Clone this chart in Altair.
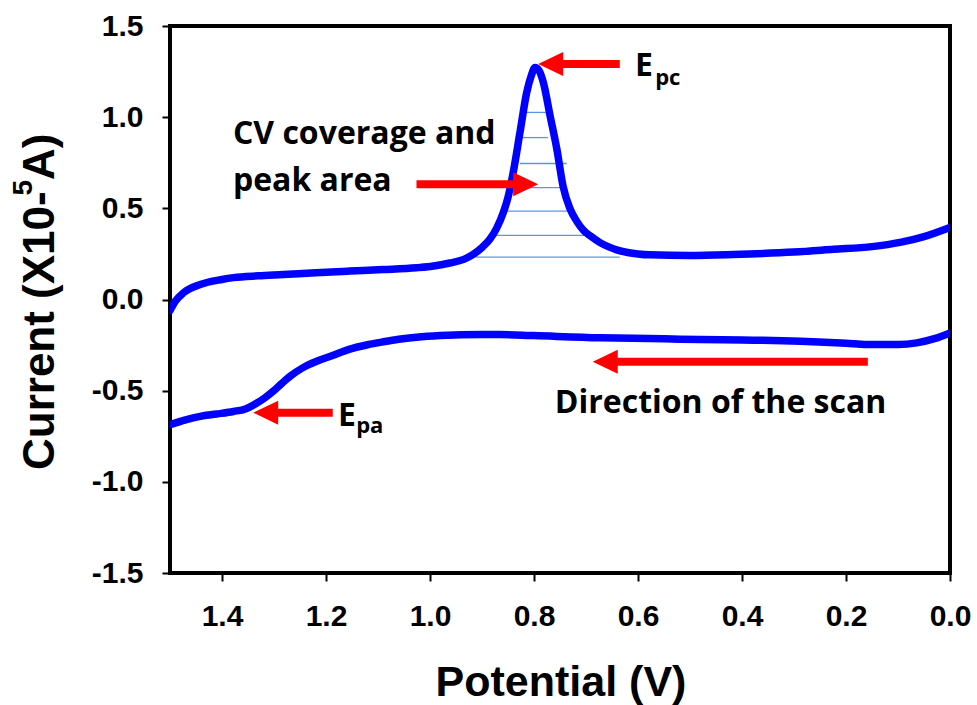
import altair as alt
import pandas as pd

# ---------------- data ----------------
# upper (cathodic) branch, potential in V, current in 1e-5 A
up_V = [1.500, 1.490, 1.474, 1.442, 1.400, 1.378, 1.330, 1.282, 1.220, 1.154, 1.090, 1.026,
        0.990, 0.962, 0.935, 0.917, 0.900, 0.885, 0.872, 0.859, 0.850, 0.840, 0.827, 0.814,
        0.805, 0.798, 0.790, 0.782, 0.769, 0.756, 0.744, 0.731, 0.718, 0.705, 0.690, 0.673,
        0.655, 0.641, 0.620, 0.600, 0.577, 0.500, 0.417, 0.300, 0.224, 0.150, 0.096, 0.050, 0.000]
up_I = [-0.060, -0.010, 0.037, 0.082, 0.110, 0.120, 0.130, 0.137, 0.147, 0.156, 0.164, 0.174,
        0.185, 0.200, 0.220, 0.247, 0.285, 0.330, 0.390, 0.477, 0.560, 0.697, 0.916, 1.136,
        1.230, 1.273, 1.255, 1.190, 1.007, 0.824, 0.620, 0.500, 0.430, 0.380, 0.345, 0.312,
        0.287, 0.272, 0.258, 0.250, 0.245, 0.242, 0.247, 0.260, 0.275, 0.290, 0.313, 0.345, 0.395]

# lower (anodic) branch
low_V = [1.500, 1.470, 1.442, 1.410, 1.378, 1.355, 1.333, 1.318, 1.302, 1.285, 1.269, 1.245,
         1.218, 1.190, 1.154, 1.120, 1.090, 1.060, 1.026, 0.980, 0.898, 0.865, 0.800, 0.673,
         0.550, 0.480, 0.400, 0.288, 0.200, 0.160, 0.100, 0.064, 0.030, 0.000]
low_I = [-0.687, -0.660, -0.641, -0.628, -0.614, -0.600, -0.568, -0.540, -0.504, -0.460, -0.421, -0.375,
         -0.339, -0.310, -0.272, -0.248, -0.232, -0.218, -0.207, -0.198, -0.192, -0.192, -0.198, -0.210,
         -0.215, -0.220, -0.222, -0.229, -0.240, -0.247, -0.247, -0.238, -0.215, -0.183]

# hatch lines marking the peak area
hatch_I = [1.026, 0.888, 0.746, 0.614, 0.485, 0.352, 0.232]
hatch_V1 = [0.817, 0.827, 0.827, 0.850, 0.859, 0.872, 0.912]
hatch_V2 = [0.776, 0.773, 0.737, 0.737, 0.721, 0.692, 0.635]

# arrows (tip, tail, level, direction)
arrow_tip_V = [0.792, 0.792, 1.340, 0.687]
arrow_tail_V = [0.635, 1.026, 1.187, 0.158]
arrow_I = [1.291, 0.632, -0.621, -0.341]
arrow_dir = ["left", "right", "left", "left"]

# annotation texts
ann_text = ["CV coverage and", "peak area", "Direction of the scan", "E", "E"]
ann_V = [1.379, 1.379, 0.760, 0.606, 1.177]
ann_I = [0.852, 0.593, -0.621, 1.225, -0.692]
sub_text = ["pc", "pa"]
sub_V = [0.567, 1.142]
sub_I = [1.176, -0.731]

x_ticks = [0.0, 0.2, 0.4, 0.6, 0.8, 1.0, 1.2, 1.4]
y_ticks = [-1.5, -1.0, -0.5, 0.0, 0.5, 1.0, 1.5]

# ---------------- tables ----------------
curve = pd.DataFrame({
    "V": up_V + low_V,
    "I": up_I + low_I,
    "branch": ["up"] * len(up_V) + ["low"] * len(low_V),
    "k": list(range(len(up_V))) + list(range(len(low_V))),
})
hatch = pd.DataFrame({"V": hatch_V1, "V2": hatch_V2, "I": hatch_I})
arr = pd.DataFrame({"tip": arrow_tip_V, "tail": arrow_tail_V, "I": arrow_I, "dir": arrow_dir})
head_len = 0.042
arr["base"] = [t - head_len if d == "left" else t + head_len for t, d in zip(arr["tip"], arr["dir"])]
ann = pd.DataFrame({"V": ann_V, "I": ann_I, "t": ann_text})
sub = pd.DataFrame({"V": sub_V, "I": sub_I, "t": sub_text})
one = pd.DataFrame({"a": [0]})

W, H = 780, 547
AX_FONT = "Liberation Sans"
ANN_FONT = "Open Sans"

minus_expr = "datum.value < 0 ? '-' + format(-datum.value, '.1f') : format(datum.value, '.1f')"

xscale = alt.Scale(domain=[0, 1.5], reverse=True, nice=False, zero=False)
yscale = alt.Scale(domain=[-1.5, 1.5], nice=False, zero=False)
xaxis = alt.Axis(values=x_ticks, title=None, labelExpr=minus_expr, labelFont=AX_FONT,
                 labelFontWeight="bold", labelFontSize=30, labelColor="black",
                 labelBaseline="alphabetic", labelPadding=44, tickSize=8, tickWidth=2,
                 tickColor="black", domain=False, grid=False, labelFlush=False)
yaxis = alt.Axis(values=y_ticks, title=None, labelExpr=minus_expr, labelFont=AX_FONT,
                 labelFontWeight="bold", labelFontSize=30, labelColor="black",
                 labelPadding=19, tickSize=8, tickWidth=2, tickColor="black",
                 domain=False, grid=False, labelFlush=False)


def X(f):
    return alt.X(f, type="quantitative", scale=xscale, axis=xaxis)


def Y(f):
    return alt.Y(f, type="quantitative", scale=yscale, axis=yaxis)


hatch_layer = alt.Chart(hatch).mark_rule(color="#5f95e0", strokeWidth=1.3).encode(
    x=X("V"), x2="V2", y=Y("I"))

curve_layer = alt.Chart(curve).mark_line(
    color="#0000ff", strokeWidth=7.5, interpolate="monotone", strokeCap="round", clip=True
).encode(x=X("V"), y=Y("I"), detail="branch:N", order="k:Q")

shaft_layer = alt.Chart(arr).mark_rule(color="#ff0000", strokeWidth=8).encode(
    x=X("tail"), x2="base", y=Y("I"))

path_left = "M0,0L2,-0.96L2,0.96Z"
path_right = "M0,0L-2,-0.96L-2,0.96Z"
head_layer = alt.Chart(arr).mark_point(filled=True, size=625, opacity=1, color="#ff0000",
                                       strokeWidth=0).encode(
    x=X("tip"), y=Y("I"),
    shape=alt.Shape("dir:N", scale=alt.Scale(domain=["left", "right"],
                                             range=[path_left, path_right]), legend=None))

ann_layer = alt.Chart(ann).mark_text(font=ANN_FONT, fontWeight="bold", fontSize=32,
                                     align="left", baseline="alphabetic", color="black").encode(
    x=X("V"), y=Y("I"), text="t:N")
sub_layer = alt.Chart(sub).mark_text(font=ANN_FONT, fontWeight="bold", fontSize=22,
                                     align="left", baseline="alphabetic", color="black").encode(
    x=X("V"), y=Y("I"), text="t:N")

# axis titles (y title needs a superscript, so it is built from pieces)
tstyle = dict(font=AX_FONT, fontWeight="bold", color="black", baseline="alphabetic")
xtitle = alt.Chart(one).mark_text(fontSize=43, align="center", **tstyle).encode(
    x=alt.value(W / 2 + 1), y=alt.value(670), text=alt.value("Potential (V)"))
yt1 = alt.Chart(one).mark_text(fontSize=44, align="left", angle=270, **tstyle).encode(
    x=alt.value(-116), y=alt.value(444), text=alt.value("Current (X10-"))
yt2 = alt.Chart(one).mark_text(fontSize=28, align="left", angle=270, **tstyle).encode(
    x=alt.value(-138), y=alt.value(169.5), text=alt.value("5"))
yt3 = alt.Chart(one).mark_text(fontSize=44, align="left", angle=270, **tstyle).encode(
    x=alt.value(-116), y=alt.value(154), text=alt.value("A)"))

chart = alt.layer(
    hatch_layer, curve_layer, shaft_layer, head_layer, ann_layer, sub_layer,
    xtitle, yt1, yt2, yt3
).properties(
    width=W, height=H,
    autosize=alt.AutoSizeParams(type="none"),
    padding={"left": 170, "top": 26, "right": 27, "bottom": 132},
    background="white",
).configure_view(stroke="black", strokeWidth=4)

chart.save("out.html", embed_options={"renderer": "svg", "actions": False})
